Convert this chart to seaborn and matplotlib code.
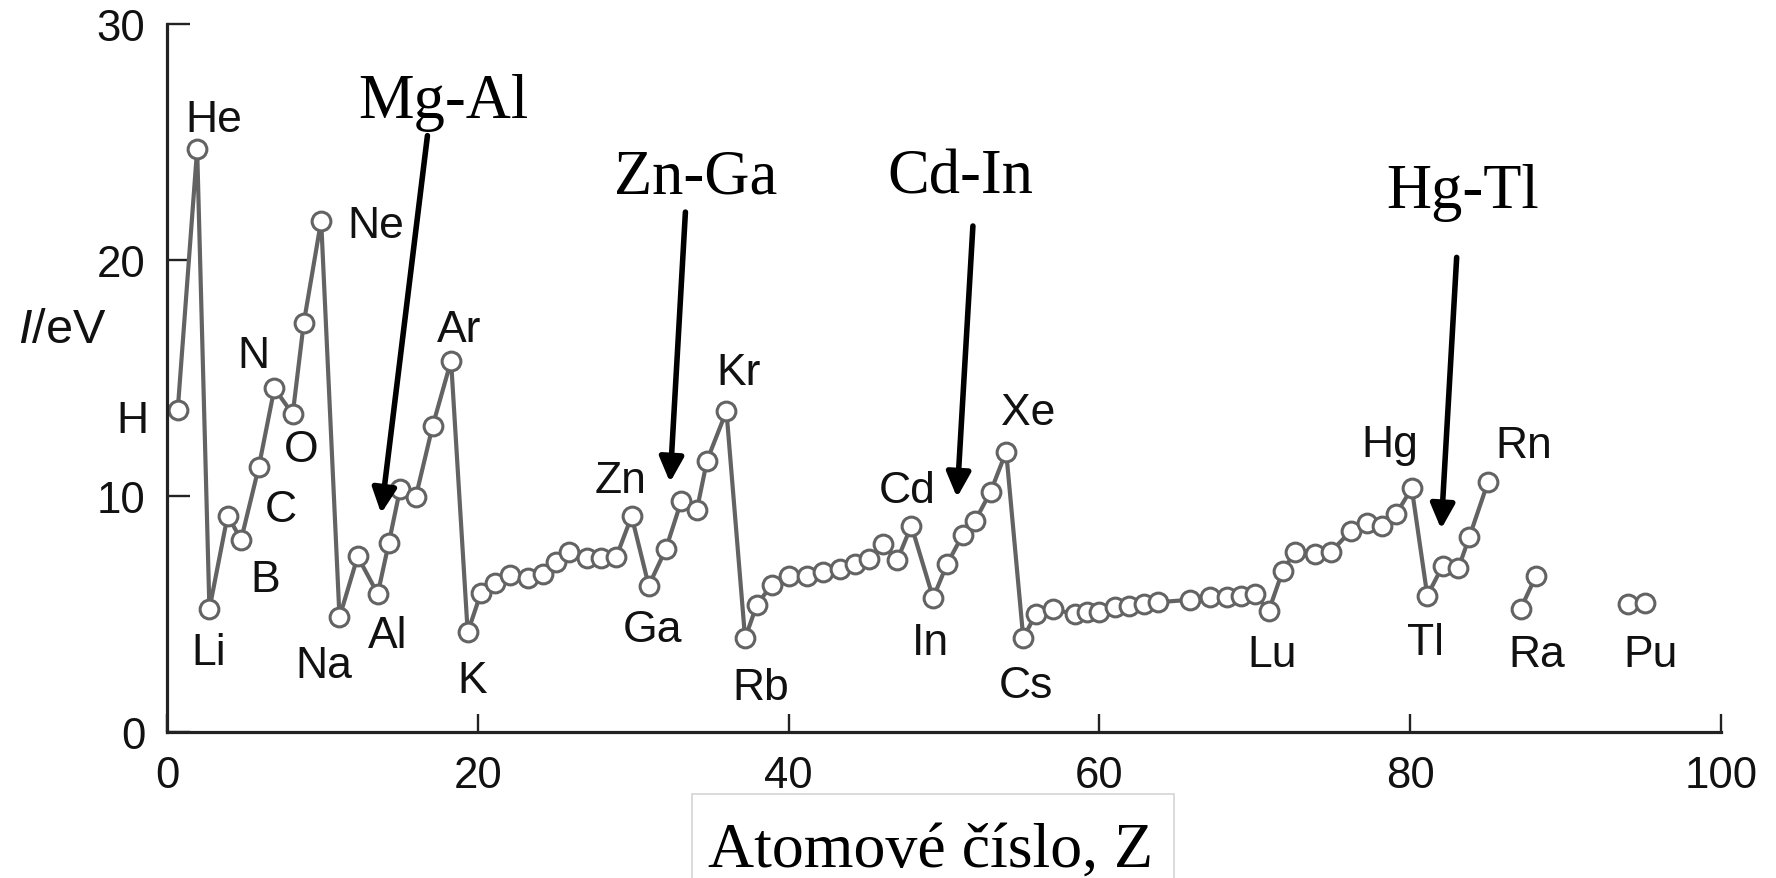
import matplotlib
matplotlib.use("Agg")
import matplotlib.pyplot as plt
import seaborn as sns
import pandas as pd
from matplotlib.patches import Rectangle

# ---------------- data ----------------
z_main = [0.69, 1.94, 2.73, 3.9, 4.77, 5.9, 6.91, 8.09, 8.8, 9.92,
          11.1, 12.27, 13.56, 14.27, 15.0, 16.0, 17.1, 18.28,
          19.35, 20.2, 21.1, 22.1, 23.2, 24.2, 25.0, 25.9, 27.0, 27.9, 28.9, 29.9,
          31.0, 32.1, 33.1, 34.1, 34.75, 36.0,
          37.2, 37.95, 38.9, 40.0, 41.2, 42.2, 43.3, 44.3, 45.2, 46.1, 47.0, 47.9,
          49.3, 50.2, 51.2, 52.0, 53.0, 54.0,
          55.1, 55.9, 57.0, 58.4, 59.2, 60.0, 61.0, 61.9, 62.9, 63.8, 65.8, 67.1,
          68.2, 69.1, 70.0, 70.9, 71.8, 72.6, 73.9, 74.9, 76.2, 77.2, 78.2, 79.1,
          80.1, 81.1, 82.1, 83.1, 83.8, 85.0]
i_main = [13.64, 24.7, 5.21, 9.17, 8.15, 11.21, 14.56, 13.47, 17.33, 21.67,
          4.86, 7.44, 5.85, 8.0, 10.3, 9.94, 12.98, 15.73,
          4.22, 5.89, 6.31, 6.65, 6.51, 6.69, 7.22, 7.61, 7.36, 7.36, 7.4, 9.14,
          6.2, 7.75, 9.8, 9.42, 11.5, 13.6,
          3.97, 5.38, 6.23, 6.62, 6.62, 6.77, 6.9, 7.1, 7.33, 7.97, 7.3, 8.74,
          5.68, 7.12, 8.35, 8.95, 10.18, 11.88,
          3.99, 4.98, 5.2, 5.0, 5.1, 5.1, 5.28, 5.35, 5.42, 5.5, 5.6, 5.7,
          5.7, 5.75, 5.85, 5.14, 6.84, 7.64, 7.54, 7.64, 8.53, 8.86, 8.74, 9.24,
          10.33, 5.78, 7.05, 6.94, 8.25, 10.58]
z_ra = [87.1, 88.1]
i_ra = [5.21, 6.62]
z_pu = [94.0, 95.1]
i_pu = [5.42, 5.47]

element_names = ["H", "He", "Li", "B", "C", "N", "O", "Ne", "Na", "Al", "Ar", "K",
                 "Zn", "Ga", "Kr", "Rb", "Cd", "In", "Xe", "Cs", "Lu", "Hg", "Tl",
                 "Rn", "Ra", "Pu"]
element_z = [-2.21, 2.99, 2.66, 6.33, 7.30, 5.56, 8.63, 13.46, 10.06, 14.2, 18.82, 19.67,
             29.18, 31.24, 36.77, 38.23, 47.61, 49.12, 55.43, 55.28, 71.13, 78.66, 80.98,
             87.28, 88.15, 95.46]
element_i = [12.72, 25.48, 2.88, 5.99, 8.95, 15.45, 11.48, 20.96, 2.32, 3.59, 16.58, 1.68,
             10.16, 3.86, 14.75, 1.40, 9.73, 3.31, 13.05, 1.48, 2.81, 11.71, 3.31,
             11.64, 2.81, 2.81]

pair_names = ["Mg-Al", "Zn-Ga", "Cd-In", "Hg-Tl"]
pair_text_z = [17.79, 34.04, 51.03, 83.39]
pair_text_i = [26.05, 22.87, 22.87, 22.23]
arrow_from_z = [16.76, 33.36, 51.86, 82.99]
arrow_from_i = [25.27, 22.03, 21.44, 20.11]
arrow_to_z = [13.78, 32.37, 50.84, 81.99]
arrow_to_i = [9.26, 10.58, 9.94, 8.6]

x_ticks = [0, 20, 40, 60, 80, 100]
y_ticks = [0, 10, 20, 30]
x_label = "Atomové číslo, Z"

# ---------------- style ----------------
sns.set_theme(style="ticks")
plt.rcParams["font.family"] = ["Liberation Sans", "DejaVu Sans"]
plt.rcParams["mathtext.fontset"] = "custom"
plt.rcParams["mathtext.it"] = "Liberation Sans:italic"
plt.rcParams["mathtext.rm"] = "Liberation Sans"

GRAY = "#636363"
INK = "#111111"

df = pd.concat([
    pd.DataFrame({"Z": z_main, "I": i_main, "seg": "main"}),
    pd.DataFrame({"Z": z_ra, "I": i_ra, "seg": "ra"}),
    pd.DataFrame({"Z": z_pu, "I": i_pu, "seg": "pu"}),
], ignore_index=True)

W, H = 1776, 879
fig = plt.figure(figsize=(W / 100, H / 100), dpi=100)
fig.patch.set_facecolor("white")
L, R, T, B = 167, 1721, 25, 733
ax = fig.add_axes([L / W, (H - B) / H, (R - L) / W, (B - T) / H])
ax.set_facecolor("white")

sns.lineplot(data=df, x="Z", y="I", units="seg", estimator=None, sort=False,
             color=GRAY, lw=3.0, marker="o", markersize=13.5,
             markerfacecolor="white", markeredgecolor=GRAY, markeredgewidth=2.2,
             legend=False, ax=ax)

ax.set_xlim(0, 100)
ax.set_ylim(0, 30)
ax.set_xticks(x_ticks)
ax.set_yticks(y_ticks)
sns.despine(ax=ax)
for side in ["left", "bottom"]:
    ax.spines[side].set_linewidth(2.3)
    ax.spines[side].set_color("#222222")
ax.tick_params(axis="both", direction="in", width=1.7, color="#222222",
               labelsize=31.5, labelcolor=INK)
ax.tick_params(axis="y", length=16.5, pad=15.5)
ax.tick_params(axis="x", length=13, pad=16.5)

# element labels
for name, zz, ii in zip(element_names, element_z, element_i):
    ax.text(zz, ii, name, fontsize=32, color=INK, ha="center", va="baseline",
            clip_on=False)

# pair annotations with arrows
for name, tz, ti, fz, fi, az, ai in zip(pair_names, pair_text_z, pair_text_i,
                                         arrow_from_z, arrow_from_i,
                                         arrow_to_z, arrow_to_i):
    ax.text(tz, ti, name, family="Liberation Serif", fontsize=45, color="black",
            ha="center", va="baseline", clip_on=False)
    ax.annotate("", xy=(az, ai), xytext=(fz, fi),
                arrowprops=dict(arrowstyle="-|>,head_length=0.45,head_width=0.22",
                                lw=4.0, color="black", mutation_scale=33,
                                shrinkA=0, shrinkB=0))

# axis labels
ax.set_ylabel(r"$I$/eV", rotation=0, fontsize=35, color=INK, ha="center", va="center")
ax.yaxis.set_label_coords(-0.0676, 0.569)
ax.set_xlabel(x_label, family="Liberation Serif", fontsize=46, color="black",
              va="baseline", ha="center")
ax.xaxis.set_label_coords(0.4916, -0.1888)

# box around x label
fig.patches.append(Rectangle((691.5 / W, -0.02), (1173.6 - 691.5) / W, (H - 795) / H + 0.02,
                             transform=fig.transFigure, facecolor="none",
                             edgecolor="#d4d4d4", lw=1.2, zorder=0))

fig.savefig("out.png", dpi=100, facecolor="white")
